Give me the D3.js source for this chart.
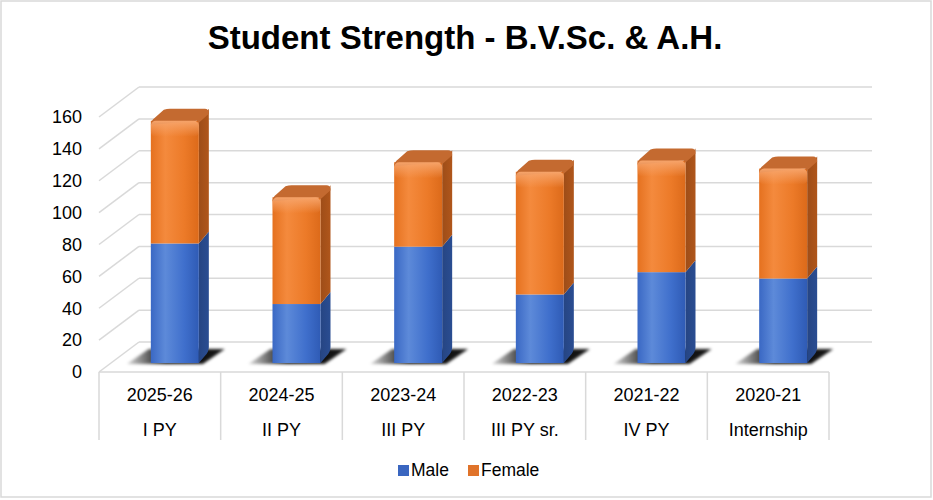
<!DOCTYPE html>
<html>
<head>
<meta charset="utf-8">
<script src="https://cdn.jsdelivr.net/npm/d3@7"></script>
<style>
  body { margin: 0; background: #fff; }
  text { font-family: "Liberation Sans", Arial, sans-serif; fill: #000; }
</style>
</head>
<body>
<div id="chart"></div>
<script>
// data
const years = ["2025-26", "2024-25", "2023-24", "2022-23", "2021-22", "2020-21"];
const classes = ["I PY", "II PY", "III PY", "III PY sr.", "IV PY", "Internship"];
const male = [75, 37, 73, 43, 57, 53];
const female = [77, 67, 53, 77, 70, 69];
const seriesNames = ["Male", "Female"];
const yTicks = [0, 20, 40, 60, 80, 100, 120, 140, 160];

const W = 933, H = 500;
const svg = d3.select("#chart").append("svg")
  .attr("width", W).attr("height", H);

const defs = svg.append("defs");

// chart border
svg.append("rect")
  .attr("x", 1).attr("y", 1).attr("width", W - 3).attr("height", H - 4)
  .attr("fill", "#fff").attr("stroke", "#d9d9d9").attr("stroke-width", 1.5);

// title
svg.append("text")
  .attr("x", 465).attr("y", 49)
  .attr("text-anchor", "middle")
  .style("font-size", "33px").style("font-weight", "bold")
  .text("Student Strength - B.V.Sc. & A.H.");

// scales: front plane of the box, and the plane the bars stand in
const depth = { dx: 40, dy: -30 };
const yFront = d3.scaleLinear().domain([0, 160]).range([372, 117]);
const yBar = d3.scaleLinear().domain([0, 160]).range([363, 108]);
const x = d3.scaleBand().domain(d3.range(years.length)).range([99, 829]);

// left wall diagonals + back wall gridlines
const grid = svg.append("g").attr("stroke", "#d9d9d9").attr("stroke-width", 1.5).attr("fill", "none");
grid.selectAll("line.diag").data(yTicks).join("line")
  .attr("class", "diag")
  .attr("x1", 99).attr("y1", d => yFront(d))
  .attr("x2", 99 + depth.dx).attr("y2", d => yFront(d) + depth.dy);
grid.selectAll("line.back").data(yTicks).join("line")
  .attr("class", "back")
  .attr("x1", 99 + depth.dx).attr("y1", d => yFront(d) + depth.dy)
  .attr("x2", 872).attr("y2", d => yFront(d) + depth.dy);

// y tick labels
const yAxis = svg.append("g")
  .attr("transform", "translate(84,0)")
  .call(d3.axisLeft(yFront).tickValues(yTicks).tickSize(0).tickPadding(2));
yAxis.select(".domain").remove();
yAxis.selectAll("text")
  .style("font-size", "18px")
  .style("font-family", "Liberation Sans, Arial, sans-serif")
  .attr("fill", "#000");

// category box
const cat = svg.append("g").attr("stroke", "#d9d9d9").attr("stroke-width", 1.5);
cat.append("line").attr("x1", 99).attr("x2", 829).attr("y1", 372).attr("y2", 372);
cat.selectAll("line.sep").data(d3.range(years.length + 1)).join("line")
  .attr("class", "sep")
  .attr("x1", i => i < years.length ? x(i) : x(i - 1) + x.bandwidth())
  .attr("x2", i => i < years.length ? x(i) : x(i - 1) + x.bandwidth())
  .attr("y1", 372).attr("y2", 440);

const labels = svg.append("g").attr("text-anchor", "middle").style("font-size", "18px");
labels.selectAll("text.yr").data(years).join("text")
  .attr("class", "yr")
  .attr("x", (d, i) => x(i) + x.bandwidth() / 2).attr("y", 401)
  .text(d => d);
labels.selectAll("text.cl").data(classes).join("text")
  .attr("class", "cl")
  .attr("x", (d, i) => x(i) + x.bandwidth() / 2).attr("y", 436)
  .text(d => d);

// gradients
const palette = {
  Male: { front: ["#3a68c4", "#5d8ad9", "#3f6fcc", "#2f5bb5"], side: "#2a4d92", top: "#4a76c8" },
  Female: { front: ["#e5711f", "#f48a3d", "#ec7a28", "#dc6a1a"], side: "#b0561b", top: "#c46a30" }
};
seriesNames.forEach(name => {
  const g = defs.append("linearGradient").attr("id", "front-" + name)
    .attr("x1", 0).attr("x2", 1).attr("y1", 0).attr("y2", 0);
  palette[name].front.forEach((c, i) => g.append("stop").attr("offset", [0, 0.3, 0.7, 1][i]).attr("stop-color", c));
  const s = defs.append("linearGradient").attr("id", "side-" + name)
    .attr("x1", 0).attr("x2", 1).attr("y1", 0).attr("y2", 0);
  s.append("stop").attr("offset", 0).attr("stop-color", d3.color(palette[name].side).darker(0.3));
  s.append("stop").attr("offset", 1).attr("stop-color", palette[name].side);
});
const hl = defs.append("linearGradient").attr("id", "topHighlight")
  .attr("x1", 0).attr("x2", 0).attr("y1", 0).attr("y2", 1);
hl.append("stop").attr("offset", 0).attr("stop-color", "#f7a46a").attr("stop-opacity", 1);
hl.append("stop").attr("offset", 1).attr("stop-color", "#f7a46a").attr("stop-opacity", 0);
const sg = defs.append("linearGradient").attr("id", "shadow").attr("x1", 0).attr("x2", 1);
sg.append("stop").attr("offset", 0).attr("stop-color", "#000").attr("stop-opacity", 0.15);
sg.append("stop").attr("offset", 0.4).attr("stop-color", "#000").attr("stop-opacity", 1);
sg.append("stop").attr("offset", 1).attr("stop-color", "#000").attr("stop-opacity", 0.9);
defs.append("filter").attr("id", "blur").attr("x", "-20%").attr("y", "-50%").attr("width", "140%").attr("height", "200%")
  .append("feGaussianBlur").attr("stdDeviation", 1.8);

// stacked data
const rows = years.map((y, i) => ({ Male: male[i], Female: female[i] }));
const stacked = d3.stack().keys(seriesNames)(rows);

const barW = 48, side = { dx: 10, dy: -12 };
const barLeft = i => x(i) + x.bandwidth() / 2 - barW / 2 + 15;

// shadows on the floor
svg.append("g").selectAll("polygon").data(years).join("polygon")
  .attr("points", (d, i) => {
    const l = barLeft(i);
    return [[l - 24, 364], [l + barW + 4, 364], [l + barW + 26, 349], [l - 2, 349]].join(" ");
  })
  .attr("fill", "url(#shadow)")
  .attr("filter", "url(#blur)");

// bars
const bars = svg.append("g");
stacked.forEach(layer => {
  const name = layer.key;
  const g = bars.append("g");
  // side face
  g.selectAll("path.side").data(layer).join("path")
    .attr("class", "side")
    .attr("d", (d, i) => {
      const r = barLeft(i) + barW, y0 = yBar(d[0]), y1 = yBar(d[1]);
      const bottom = d[0] === 0
        ? `L${r + side.dx},${y0 + side.dy - 4} Q${r + side.dx},${y0 + side.dy + 1} ${r + side.dx - 4},${y0 + side.dy + 5} L${r},${y0}`
        : `L${r + side.dx},${y0 + side.dy} L${r},${y0}`;
      return `M${r},${y1} L${r + side.dx},${y1 + side.dy} ${bottom} Z`;
    })
    .attr("fill", `url(#side-${name})`);
  // front face
  g.selectAll("rect.front").data(layer).join("rect")
    .attr("class", "front")
    .attr("x", (d, i) => barLeft(i))
    .attr("y", d => yBar(d[1]))
    .attr("width", barW)
    .attr("height", d => yBar(d[0]) - yBar(d[1]))
    .attr("fill", `url(#front-${name})`);
});
// top caps on the upper segment
const topLayer = stacked[stacked.length - 1];
bars.append("g").selectAll("path").data(topLayer).join("path")
  .attr("d", (d, i) => {
    const l = barLeft(i), t = yBar(d[1]);
    return `M${l},${t + 4} Q${l},${t} ${l + 4},${t - 3} L${l + side.dx + 3},${t + side.dy + 1}
            Q${l + side.dx + 6},${t + side.dy} ${l + side.dx + 9},${t + side.dy}
            L${l + barW + side.dx - 4},${t + side.dy} Q${l + barW + side.dx},${t + side.dy} ${l + barW + side.dx},${t + side.dy + 5}
            L${l + barW},${t + 2} L${l + barW - 2},${t} Z`;
  })
  .attr("fill", palette.Female.top);
bars.append("g").selectAll("rect").data(topLayer).join("rect")
  .attr("x", (d, i) => barLeft(i))
  .attr("y", d => yBar(d[1]))
  .attr("width", barW).attr("height", 16)
  .attr("rx", 5)
  .attr("fill", "url(#topHighlight)");

// legend
const legend = svg.append("g");
const legendX = [398, 468];
legend.selectAll("rect").data(seriesNames).join("rect")
  .attr("x", (d, i) => legendX[i]).attr("y", 465)
  .attr("width", 11).attr("height", 11)
  .attr("fill", d => d === "Male" ? "#3a66c0" : "#e0732a");
legend.selectAll("text").data(seriesNames).join("text")
  .attr("x", (d, i) => legendX[i] + 13).attr("y", 476)
  .style("font-size", "17.5px")
  .text(d => d);
</script>
</body>
</html>
